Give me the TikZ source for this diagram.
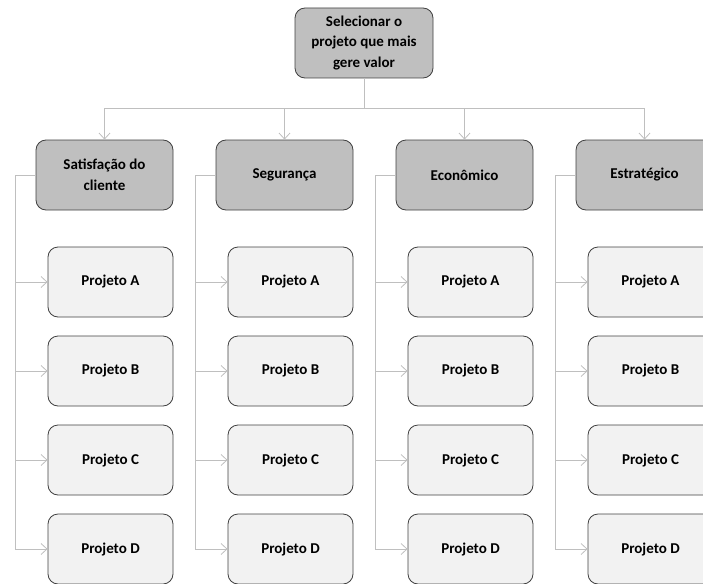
\documentclass[tikz,border=0pt]{standalone}
\usepackage{fontspec}
\setmainfont{Carlito}
\usetikzlibrary{arrows.meta}
\definecolor{boxline}{HTML}{404040}
\definecolor{darkfill}{HTML}{BFBFBF}
\definecolor{lightfill}{HTML}{F2F2F2}
\definecolor{wire}{HTML}{BFBFBF}

\begin{document}
\begin{tikzpicture}[x=1pt,y=-1pt,
    box/.style={draw=boxline,line width=0.8pt,rounded corners=10pt,align=center,
        minimum height=70pt,font=\bfseries\fontsize{15}{20.5}\selectfont},
    goal/.style={box,fill=darkfill,minimum width=138pt},
    crit/.style={box,fill=darkfill,minimum width=137pt},
    proj/.style={box,fill=lightfill,minimum width=125pt},
    wireline/.style={draw=wire,line width=0.8pt},
    tip/.style={wireline,-{Straight Barb[length=6pt,width=11pt]}}]
    \useasboundingbox (0,0) rectangle (703,583);

    \node[goal] (goal) at (364,43) {Selecionar o\\projeto que mais\\gere valor};
    \coordinate (bus) at (364,108);
    \draw[wireline] (goal.south) -- (bus);

    % criteria and their projects
    \foreach \i/\name [count=\k from 0] in {sat/{Satisfação do\\cliente},seg/Segurança,eco/Econômico,est/Estratégico} {
        \node[crit] (\i) at (104.5+180*\k,175) {\name};
        \draw[tip] (bus) -| (\i.north);
        \coordinate (\i rail) at (15+180*\k,175);
        \draw[wireline] (\i.west) -- (\i rail);
        \foreach \p [count=\j from 0] in {A,B,C,D} {
            \node[proj] (\i\p) at (110.5+180*\k,282+89*\j) {Projeto \p};
            \draw[tip] (\i rail) |- (\i\p.west);
        }
    }
\end{tikzpicture}
\end{document}
